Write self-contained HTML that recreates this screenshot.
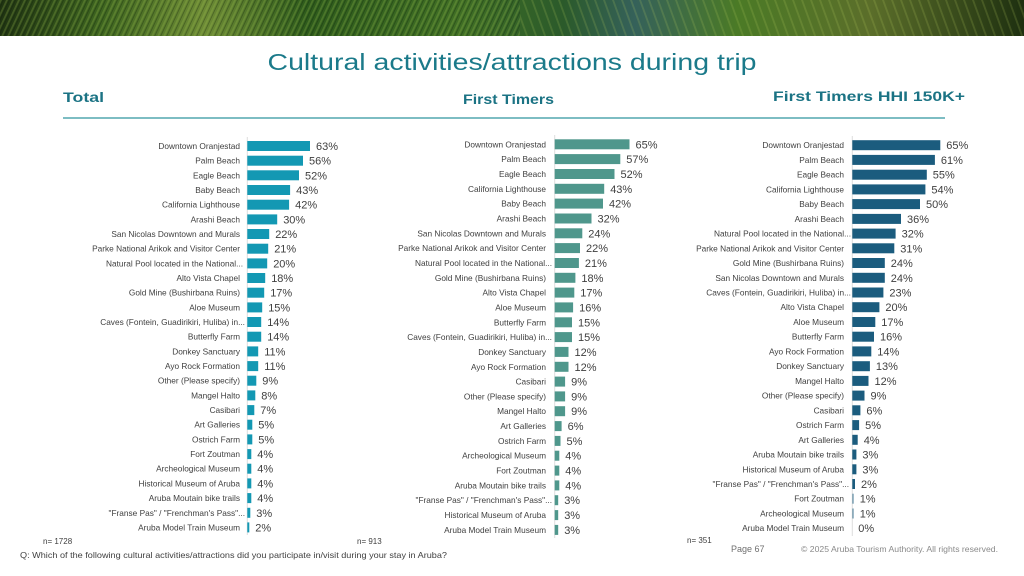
<!DOCTYPE html>
<html><head><meta charset="utf-8"><style>
html,body{margin:0;padding:0;background:#fff;}
svg{display:block;}
.l{font-family:"Liberation Sans",Arial,sans-serif;font-size:8.3px;fill:#404040;text-anchor:end;}
.v{font-family:"Liberation Sans",Arial,sans-serif;font-size:11px;fill:#404040;}
.a{fill:#1398b3;}
.b{fill:#4f978c;}
.c{fill:#1b5c7e;}
</style></head><body>
<svg width="1024" height="576" viewBox="0 0 1024 576" xmlns="http://www.w3.org/2000/svg">
<defs>
<linearGradient id="bg" x1="0" x2="1" y1="0" y2="0">
<stop offset="0" stop-color="#1f3312"/>
<stop offset="0.1" stop-color="#3d6420"/>
<stop offset="0.2" stop-color="#6c8a35"/>
<stop offset="0.3" stop-color="#2d5a1c"/>
<stop offset="0.45" stop-color="#3f6e25"/>
<stop offset="0.55" stop-color="#2b5a2a"/>
<stop offset="0.62" stop-color="#35615a"/>
<stop offset="0.72" stop-color="#4b7a26"/>
<stop offset="0.85" stop-color="#5b6e2a"/>
<stop offset="1" stop-color="#1e3010"/>
</linearGradient>
<pattern id="st" width="6" height="36" patternUnits="userSpaceOnUse" patternTransform="skewX(-25)">
<rect x="0" y="0" width="2" height="36" fill="#9ec050" opacity="0.25"/>
<rect x="3" y="0" width="1" height="36" fill="#0c1a06" opacity="0.3"/>
</pattern>
<pattern id="st2" width="9" height="36" patternUnits="userSpaceOnUse" patternTransform="skewX(20)">
<rect x="0" y="0" width="2" height="36" fill="#b8d060" opacity="0.18"/>
</pattern>
</defs>
<rect x="0" y="0" width="1024" height="36" fill="url(#bg)"/>
<rect x="0" y="0" width="520" height="36" fill="url(#st)"/>
<rect x="520" y="0" width="504" height="36" fill="url(#st2)"/>

<text x="512" y="70" text-anchor="middle" textLength="489" lengthAdjust="spacingAndGlyphs" style="font-family:'Liberation Sans',Arial,sans-serif;font-size:23px;fill:#1b7a8a;">Cultural activities/attractions during trip</text>
<text x="63" y="102" textLength="41" lengthAdjust="spacingAndGlyphs" style="font-family:'Liberation Sans',Arial,sans-serif;font-size:14px;font-weight:bold;fill:#1b7384;">Total</text>
<text x="463" y="104" textLength="91" lengthAdjust="spacingAndGlyphs" style="font-family:'Liberation Sans',Arial,sans-serif;font-size:14px;font-weight:bold;fill:#1b7384;">First Timers</text>
<text x="773" y="101" textLength="192" lengthAdjust="spacingAndGlyphs" style="font-family:'Liberation Sans',Arial,sans-serif;font-size:14px;font-weight:bold;fill:#1b7384;">First Timers HHI 150K+</text>
<rect x="63" y="117" width="882" height="2" fill="#7dbdc3"/>

<line x1="247.3" y1="137" x2="247.3" y2="535" stroke="#dedede" stroke-width="1"/>
<line x1="554.7" y1="135" x2="554.7" y2="538" stroke="#dedede" stroke-width="1"/>
<line x1="852.3" y1="136" x2="852.3" y2="536" stroke="#dedede" stroke-width="1"/>

<!-- Total -->
<g transform="translate(0,146)"><text class="l" x="240" y="3">Downtown Oranjestad</text><rect class="a" x="247.3" y="-5" width="62.7" height="10"/><text class="v" x="316" y="4">63%</text></g>
<g transform="translate(0,160.7)"><text class="l" x="240" y="3">Palm Beach</text><rect class="a" x="247.3" y="-5" width="55.7" height="10"/><text class="v" x="309" y="4">56%</text></g>
<g transform="translate(0,175.3)"><text class="l" x="240" y="3">Eagle Beach</text><rect class="a" x="247.3" y="-5" width="51.7" height="10"/><text class="v" x="305" y="4">52%</text></g>
<g transform="translate(0,190)"><text class="l" x="240" y="3">Baby Beach</text><rect class="a" x="247.3" y="-5" width="42.8" height="10"/><text class="v" x="296.1" y="4">43%</text></g>
<g transform="translate(0,204.7)"><text class="l" x="240" y="3">California Lighthouse</text><rect class="a" x="247.3" y="-5" width="41.8" height="10"/><text class="v" x="295.1" y="4">42%</text></g>
<g transform="translate(0,219.4)"><text class="l" x="240" y="3">Arashi Beach</text><rect class="a" x="247.3" y="-5" width="29.9" height="10"/><text class="v" x="283.2" y="4">30%</text></g>
<g transform="translate(0,234)"><text class="l" x="240" y="3">San Nicolas Downtown and Murals</text><rect class="a" x="247.3" y="-5" width="21.9" height="10"/><text class="v" x="275.2" y="4">22%</text></g>
<g transform="translate(0,248.7)"><text class="l" x="240" y="3">Parke National Arikok and Visitor Center</text><rect class="a" x="247.3" y="-5" width="20.9" height="10"/><text class="v" x="274.2" y="4">21%</text></g>
<g transform="translate(0,263.4)"><text class="l" x="243" y="3">Natural Pool located in the National...</text><rect class="a" x="247.3" y="-5" width="19.9" height="10"/><text class="v" x="273.2" y="4">20%</text></g>
<g transform="translate(0,278)"><text class="l" x="240" y="3">Alto Vista Chapel</text><rect class="a" x="247.3" y="-5" width="17.9" height="10"/><text class="v" x="271.2" y="4">18%</text></g>
<g transform="translate(0,292.7)"><text class="l" x="240" y="3">Gold Mine (Bushirbana Ruins)</text><rect class="a" x="247.3" y="-5" width="16.9" height="10"/><text class="v" x="270.2" y="4">17%</text></g>
<g transform="translate(0,307.4)"><text class="l" x="240" y="3">Aloe Museum</text><rect class="a" x="247.3" y="-5" width="14.9" height="10"/><text class="v" x="268.2" y="4">15%</text></g>
<g transform="translate(0,322)"><text class="l" x="245" y="3">Caves (Fontein, Guadirikiri, Huliba) in...</text><rect class="a" x="247.3" y="-5" width="13.9" height="10"/><text class="v" x="267.2" y="4">14%</text></g>
<g transform="translate(0,336.7)"><text class="l" x="240" y="3">Butterfly Farm</text><rect class="a" x="247.3" y="-5" width="13.9" height="10"/><text class="v" x="267.2" y="4">14%</text></g>
<g transform="translate(0,351.4)"><text class="l" x="240" y="3">Donkey Sanctuary</text><rect class="a" x="247.3" y="-5" width="10.9" height="10"/><text class="v" x="264.2" y="4">11%</text></g>
<g transform="translate(0,366.1)"><text class="l" x="240" y="3">Ayo Rock Formation</text><rect class="a" x="247.3" y="-5" width="10.9" height="10"/><text class="v" x="264.2" y="4">11%</text></g>
<g transform="translate(0,380.7)"><text class="l" x="240" y="3">Other (Please specify)</text><rect class="a" x="247.3" y="-5" width="9" height="10"/><text class="v" x="262.3" y="4">9%</text></g>
<g transform="translate(0,395.4)"><text class="l" x="240" y="3">Mangel Halto</text><rect class="a" x="247.3" y="-5" width="8" height="10"/><text class="v" x="261.3" y="4">8%</text></g>
<g transform="translate(0,410.1)"><text class="l" x="240" y="3">Casibari</text><rect class="a" x="247.3" y="-5" width="7" height="10"/><text class="v" x="260.3" y="4">7%</text></g>
<g transform="translate(0,424.7)"><text class="l" x="240" y="3">Art Galleries</text><rect class="a" x="247.3" y="-5" width="5" height="10"/><text class="v" x="258.3" y="4">5%</text></g>
<g transform="translate(0,439.4)"><text class="l" x="240" y="3">Ostrich Farm</text><rect class="a" x="247.3" y="-5" width="5" height="10"/><text class="v" x="258.3" y="4">5%</text></g>
<g transform="translate(0,454.1)"><text class="l" x="240" y="3">Fort Zoutman</text><rect class="a" x="247.3" y="-5" width="4" height="10"/><text class="v" x="257.3" y="4">4%</text></g>
<g transform="translate(0,468.7)"><text class="l" x="240" y="3">Archeological Museum</text><rect class="a" x="247.3" y="-5" width="4" height="10"/><text class="v" x="257.3" y="4">4%</text></g>
<g transform="translate(0,483.4)"><text class="l" x="240" y="3">Historical Museum of Aruba</text><rect class="a" x="247.3" y="-5" width="4" height="10"/><text class="v" x="257.3" y="4">4%</text></g>
<g transform="translate(0,498.1)"><text class="l" x="240" y="3">Aruba Moutain bike trails</text><rect class="a" x="247.3" y="-5" width="4" height="10"/><text class="v" x="257.3" y="4">4%</text></g>
<g transform="translate(0,512.8)"><text class="l" x="245" y="3">"Franse Pas" / "Frenchman's Pass"...</text><rect class="a" x="247.3" y="-5" width="3" height="10"/><text class="v" x="256.3" y="4">3%</text></g>
<g transform="translate(0,527.4)"><text class="l" x="240" y="3">Aruba Model Train Museum</text><rect class="a" x="247.3" y="-5" width="2" height="10"/><text class="v" x="255.3" y="4">2%</text></g>

<!-- First Timers -->
<g transform="translate(0,144.3)"><text class="l" x="546" y="3">Downtown Oranjestad</text><rect class="b" x="554.7" y="-5" width="74.8" height="10"/><text class="v" x="635.5" y="4">65%</text></g>
<g transform="translate(0,159.1)"><text class="l" x="546" y="3">Palm Beach</text><rect class="b" x="554.7" y="-5" width="65.6" height="10"/><text class="v" x="626.3" y="4">57%</text></g>
<g transform="translate(0,174)"><text class="l" x="546" y="3">Eagle Beach</text><rect class="b" x="554.7" y="-5" width="59.8" height="10"/><text class="v" x="620.5" y="4">52%</text></g>
<g transform="translate(0,188.8)"><text class="l" x="546" y="3">California Lighthouse</text><rect class="b" x="554.7" y="-5" width="49.5" height="10"/><text class="v" x="610.2" y="4">43%</text></g>
<g transform="translate(0,203.6)"><text class="l" x="546" y="3">Baby Beach</text><rect class="b" x="554.7" y="-5" width="48.3" height="10"/><text class="v" x="609" y="4">42%</text></g>
<g transform="translate(0,218.5)"><text class="l" x="546" y="3">Arashi Beach</text><rect class="b" x="554.7" y="-5" width="36.8" height="10"/><text class="v" x="597.5" y="4">32%</text></g>
<g transform="translate(0,233.3)"><text class="l" x="546" y="3">San Nicolas Downtown and Murals</text><rect class="b" x="554.7" y="-5" width="27.6" height="10"/><text class="v" x="588.3" y="4">24%</text></g>
<g transform="translate(0,248.1)"><text class="l" x="546" y="3">Parke National Arikok and Visitor Center</text><rect class="b" x="554.7" y="-5" width="25.3" height="10"/><text class="v" x="586" y="4">22%</text></g>
<g transform="translate(0,263)"><text class="l" x="552" y="3">Natural Pool located in the National...</text><rect class="b" x="554.7" y="-5" width="24.2" height="10"/><text class="v" x="584.9" y="4">21%</text></g>
<g transform="translate(0,277.8)"><text class="l" x="546" y="3">Gold Mine (Bushirbana Ruins)</text><rect class="b" x="554.7" y="-5" width="20.7" height="10"/><text class="v" x="581.4" y="4">18%</text></g>
<g transform="translate(0,292.6)"><text class="l" x="546" y="3">Alto Vista Chapel</text><rect class="b" x="554.7" y="-5" width="19.6" height="10"/><text class="v" x="580.3" y="4">17%</text></g>
<g transform="translate(0,307.4)"><text class="l" x="546" y="3">Aloe Museum</text><rect class="b" x="554.7" y="-5" width="18.4" height="10"/><text class="v" x="579.1" y="4">16%</text></g>
<g transform="translate(0,322.3)"><text class="l" x="546" y="3">Butterfly Farm</text><rect class="b" x="554.7" y="-5" width="17.3" height="10"/><text class="v" x="578" y="4">15%</text></g>
<g transform="translate(0,337.1)"><text class="l" x="552" y="3">Caves (Fontein, Guadirikiri, Huliba) in...</text><rect class="b" x="554.7" y="-5" width="17.3" height="10"/><text class="v" x="578" y="4">15%</text></g>
<g transform="translate(0,351.9)"><text class="l" x="546" y="3">Donkey Sanctuary</text><rect class="b" x="554.7" y="-5" width="13.8" height="10"/><text class="v" x="574.5" y="4">12%</text></g>
<g transform="translate(0,366.8)"><text class="l" x="546" y="3">Ayo Rock Formation</text><rect class="b" x="554.7" y="-5" width="13.8" height="10"/><text class="v" x="574.5" y="4">12%</text></g>
<g transform="translate(0,381.6)"><text class="l" x="546" y="3">Casibari</text><rect class="b" x="554.7" y="-5" width="10.4" height="10"/><text class="v" x="571.1" y="4">9%</text></g>
<g transform="translate(0,396.4)"><text class="l" x="546" y="3">Other (Please specify)</text><rect class="b" x="554.7" y="-5" width="10.4" height="10"/><text class="v" x="571.1" y="4">9%</text></g>
<g transform="translate(0,411.2)"><text class="l" x="546" y="3">Mangel Halto</text><rect class="b" x="554.7" y="-5" width="10.4" height="10"/><text class="v" x="571.1" y="4">9%</text></g>
<g transform="translate(0,426.1)"><text class="l" x="546" y="3">Art Galleries</text><rect class="b" x="554.7" y="-5" width="6.9" height="10"/><text class="v" x="567.6" y="4">6%</text></g>
<g transform="translate(0,440.9)"><text class="l" x="546" y="3">Ostrich Farm</text><rect class="b" x="554.7" y="-5" width="5.8" height="10"/><text class="v" x="566.5" y="4">5%</text></g>
<g transform="translate(0,455.7)"><text class="l" x="546" y="3">Archeological Museum</text><rect class="b" x="554.7" y="-5" width="4.6" height="10"/><text class="v" x="565.3" y="4">4%</text></g>
<g transform="translate(0,470.6)"><text class="l" x="546" y="3">Fort Zoutman</text><rect class="b" x="554.7" y="-5" width="4.6" height="10"/><text class="v" x="565.3" y="4">4%</text></g>
<g transform="translate(0,485.4)"><text class="l" x="546" y="3">Aruba Moutain bike trails</text><rect class="b" x="554.7" y="-5" width="4.6" height="10"/><text class="v" x="565.3" y="4">4%</text></g>
<g transform="translate(0,500.2)"><text class="l" x="552" y="3">"Franse Pas" / "Frenchman's Pass"...</text><rect class="b" x="554.7" y="-5" width="3.5" height="10"/><text class="v" x="564.2" y="4">3%</text></g>
<g transform="translate(0,515.1)"><text class="l" x="546" y="3">Historical Museum of Aruba</text><rect class="b" x="554.7" y="-5" width="3.5" height="10"/><text class="v" x="564.2" y="4">3%</text></g>
<g transform="translate(0,529.9)"><text class="l" x="546" y="3">Aruba Model Train Museum</text><rect class="b" x="554.7" y="-5" width="3.5" height="10"/><text class="v" x="564.2" y="4">3%</text></g>

<!-- First Timers HHI 150K+ -->
<g transform="translate(0,145.2)"><text class="l" x="844" y="3">Downtown Oranjestad</text><rect class="c" x="852.3" y="-5" width="88" height="10"/><text class="v" x="946.3" y="4">65%</text></g>
<g transform="translate(0,159.9)"><text class="l" x="844" y="3">Palm Beach</text><rect class="c" x="852.3" y="-5" width="82.6" height="10"/><text class="v" x="940.9" y="4">61%</text></g>
<g transform="translate(0,174.7)"><text class="l" x="844" y="3">Eagle Beach</text><rect class="c" x="852.3" y="-5" width="74.5" height="10"/><text class="v" x="932.8" y="4">55%</text></g>
<g transform="translate(0,189.4)"><text class="l" x="844" y="3">California Lighthouse</text><rect class="c" x="852.3" y="-5" width="73.1" height="10"/><text class="v" x="931.4" y="4">54%</text></g>
<g transform="translate(0,204.1)"><text class="l" x="844" y="3">Baby Beach</text><rect class="c" x="852.3" y="-5" width="67.7" height="10"/><text class="v" x="926" y="4">50%</text></g>
<g transform="translate(0,218.9)"><text class="l" x="844" y="3">Arashi Beach</text><rect class="c" x="852.3" y="-5" width="48.7" height="10"/><text class="v" x="907" y="4">36%</text></g>
<g transform="translate(0,233.6)"><text class="l" x="851" y="3">Natural Pool located in the National...</text><rect class="c" x="852.3" y="-5" width="43.3" height="10"/><text class="v" x="901.6" y="4">32%</text></g>
<g transform="translate(0,248.3)"><text class="l" x="844" y="3">Parke National Arikok and Visitor Center</text><rect class="c" x="852.3" y="-5" width="42" height="10"/><text class="v" x="900.3" y="4">31%</text></g>
<g transform="translate(0,263)"><text class="l" x="844" y="3">Gold Mine (Bushirbana Ruins)</text><rect class="c" x="852.3" y="-5" width="32.5" height="10"/><text class="v" x="890.8" y="4">24%</text></g>
<g transform="translate(0,277.8)"><text class="l" x="844" y="3">San Nicolas Downtown and Murals</text><rect class="c" x="852.3" y="-5" width="32.5" height="10"/><text class="v" x="890.8" y="4">24%</text></g>
<g transform="translate(0,292.5)"><text class="l" x="851" y="3">Caves (Fontein, Guadirikiri, Huliba) in...</text><rect class="c" x="852.3" y="-5" width="31.1" height="10"/><text class="v" x="889.4" y="4">23%</text></g>
<g transform="translate(0,307.2)"><text class="l" x="844" y="3">Alto Vista Chapel</text><rect class="c" x="852.3" y="-5" width="27.1" height="10"/><text class="v" x="885.4" y="4">20%</text></g>
<g transform="translate(0,322)"><text class="l" x="844" y="3">Aloe Museum</text><rect class="c" x="852.3" y="-5" width="23" height="10"/><text class="v" x="881.3" y="4">17%</text></g>
<g transform="translate(0,336.7)"><text class="l" x="844" y="3">Butterfly Farm</text><rect class="c" x="852.3" y="-5" width="21.7" height="10"/><text class="v" x="880" y="4">16%</text></g>
<g transform="translate(0,351.4)"><text class="l" x="844" y="3">Ayo Rock Formation</text><rect class="c" x="852.3" y="-5" width="19" height="10"/><text class="v" x="877.3" y="4">14%</text></g>
<g transform="translate(0,366.2)"><text class="l" x="844" y="3">Donkey Sanctuary</text><rect class="c" x="852.3" y="-5" width="17.6" height="10"/><text class="v" x="875.9" y="4">13%</text></g>
<g transform="translate(0,380.9)"><text class="l" x="844" y="3">Mangel Halto</text><rect class="c" x="852.3" y="-5" width="16.2" height="10"/><text class="v" x="874.5" y="4">12%</text></g>
<g transform="translate(0,395.6)"><text class="l" x="844" y="3">Other (Please specify)</text><rect class="c" x="852.3" y="-5" width="12.2" height="10"/><text class="v" x="870.5" y="4">9%</text></g>
<g transform="translate(0,410.3)"><text class="l" x="844" y="3">Casibari</text><rect class="c" x="852.3" y="-5" width="8.1" height="10"/><text class="v" x="866.4" y="4">6%</text></g>
<g transform="translate(0,425.1)"><text class="l" x="844" y="3">Ostrich Farm</text><rect class="c" x="852.3" y="-5" width="6.8" height="10"/><text class="v" x="865.1" y="4">5%</text></g>
<g transform="translate(0,439.8)"><text class="l" x="844" y="3">Art Galleries</text><rect class="c" x="852.3" y="-5" width="5.4" height="10"/><text class="v" x="863.7" y="4">4%</text></g>
<g transform="translate(0,454.5)"><text class="l" x="844" y="3">Aruba Moutain bike trails</text><rect class="c" x="852.3" y="-5" width="4.1" height="10"/><text class="v" x="862.4" y="4">3%</text></g>
<g transform="translate(0,469.3)"><text class="l" x="844" y="3">Historical Museum of Aruba</text><rect class="c" x="852.3" y="-5" width="4.1" height="10"/><text class="v" x="862.4" y="4">3%</text></g>
<g transform="translate(0,484)"><text class="l" x="849" y="3">"Franse Pas" / "Frenchman's Pass"...</text><rect class="c" x="852.3" y="-5" width="2.7" height="10"/><text class="v" x="861" y="4">2%</text></g>
<g transform="translate(0,498.7)"><text class="l" x="844" y="3">Fort Zoutman</text><rect class="c" x="852.3" y="-5" width="1.4" height="10" opacity="0.6"/><text class="v" x="859.7" y="4">1%</text></g>
<g transform="translate(0,513.5)"><text class="l" x="844" y="3">Archeological Museum</text><rect class="c" x="852.3" y="-5" width="1.4" height="10" opacity="0.6"/><text class="v" x="859.7" y="4">1%</text></g>
<g transform="translate(0,528.2)"><text class="l" x="844" y="3">Aruba Model Train Museum</text><text class="v" x="858.3" y="4">0%</text></g>

<!-- Footer -->
<text x="43" y="544" style="font-family:'Liberation Sans',Arial,sans-serif;font-size:8px;fill:#404040;">n= 1728</text>
<text x="357" y="544" style="font-family:'Liberation Sans',Arial,sans-serif;font-size:8px;fill:#404040;">n= 913</text>
<text x="687" y="543" style="font-family:'Liberation Sans',Arial,sans-serif;font-size:8px;fill:#404040;">n= 351</text>
<text x="20" y="558" textLength="427" lengthAdjust="spacingAndGlyphs" style="font-family:'Liberation Sans',Arial,sans-serif;font-size:8.5px;fill:#404040;">Q: Which of the following cultural activities/attractions did you participate in/visit during your stay in Aruba?</text>
<text x="731" y="552" style="font-family:'Liberation Sans',Arial,sans-serif;font-size:9px;fill:#6f6f6f;">Page 67</text>
<text x="801" y="552" textLength="197" lengthAdjust="spacingAndGlyphs" style="font-family:'Liberation Sans',Arial,sans-serif;font-size:8.5px;fill:#8a8a8a;">© 2025 Aruba Tourism Authority. All rights reserved.</text>
</svg>
</body></html>
